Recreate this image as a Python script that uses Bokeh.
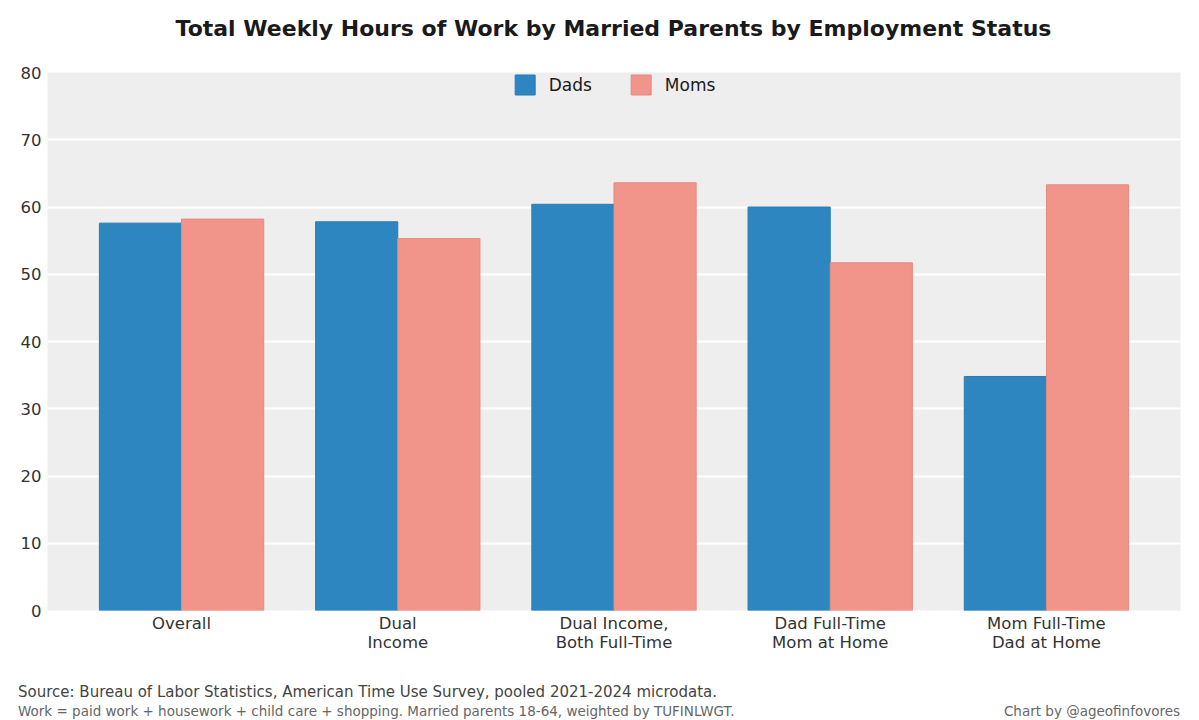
from bokeh.plotting import figure
from bokeh.layouts import column
from bokeh.models import ColumnDataSource, FixedTicker, Legend, LegendItem, Range1d, Div
from bokeh.embed import file_html
from bokeh.resources import INLINE

categories = ["Overall", "Dual\nIncome", "Dual Income,\nBoth Full-Time",
              "Dad Full-Time\nMom at Home", "Mom Full-Time\nDad at Home"]
dads = [57.6, 57.8, 60.4, 60.0, 34.8]
moms = [58.2, 55.3, 63.6, 51.7, 63.3]
y_ticks = [0, 10, 20, 30, 40, 50, 60, 70, 80]

title_text = "Total Weekly Hours of Work by Married Parents by Employment Status"
source_text = "Source: Bureau of Labor Statistics, American Time Use Survey, pooled 2021-2024 microdata."
note_text = "Work = paid work + housework + child care + shopping. Married parents 18-64, weighted by TUFINLWGT."
credit_text = "Chart by @ageofinfovores"

FONT = "DejaVu Sans"
DAD_COLOR = "#2e86c1"
MOM_COLOR = "#f1948a"
BAR_W = 0.38

xs = list(range(len(categories)))
src = ColumnDataSource(dict(
    xd=[x - BAR_W / 2 for x in xs],
    xm=[x + BAR_W / 2 for x in xs],
    dads=dads, moms=moms,
))

p = figure(width=1199, height=625, output_backend="svg", toolbar_location=None,
           x_range=Range1d(-0.62, 4.62), y_range=Range1d(0, 80),
           min_border_left=47, min_border_right=19, min_border_top=22,
           min_border_bottom=65, background_fill_color="#eeeeee",
           border_fill_color="white", outline_line_color=None, margin=0)

rd = p.vbar(x="xd", top="dads", width=BAR_W, source=src, fill_color=DAD_COLOR,
            line_color="#2b7bb3", line_width=1)
rm = p.vbar(x="xm", top="moms", width=BAR_W, source=src, fill_color=MOM_COLOR,
            line_color="#e6897f", line_width=1)

# axes
p.xaxis.ticker = FixedTicker(ticks=xs)
p.xaxis.major_label_overrides = {i: c for i, c in enumerate(categories)}
p.yaxis.ticker = FixedTicker(ticks=y_ticks)
for ax in (p.xaxis[0], p.yaxis[0]):
    ax.axis_line_color = None
    ax.major_tick_line_color = None
    ax.minor_tick_line_color = None
    ax.major_tick_out = 0
    ax.major_tick_in = 0
    ax.minor_tick_out = 0
    ax.major_label_text_font = FONT
    ax.major_label_text_font_size = "16.5px"
    ax.major_label_text_color = "#333333"
    ax.major_label_text_line_height = 1.0
p.xaxis.major_label_standoff = 3
p.yaxis.major_label_standoff = 6

p.xgrid.grid_line_color = None
p.ygrid.grid_line_color = "white"
p.ygrid.grid_line_width = 2

legend = Legend(items=[LegendItem(label="Dads", renderers=[rd]),
                       LegendItem(label="Moms", renderers=[rm])],
                location="top_center", orientation="horizontal",
                border_line_color=None, background_fill_alpha=0,
                label_text_font=FONT, label_text_font_size="17px",
                label_text_color="#1a1a1a", glyph_width=25, glyph_height=25,
                label_standoff=12, spacing=36, margin=0, padding=1)
p.add_layout(legend, "center")

title_div = Div(width=1199, height=50, margin=0, text=(
    '<div style="position:relative;width:1199px;height:50px;">'
    '<div style="position:absolute;left:47px;width:1133px;top:16px;text-align:center;'
    "font-family:'DejaVu Sans';font-weight:bold;font-size:22px;line-height:26px;"
    'color:#1a1a1a;white-space:nowrap;">' + title_text + '</div></div>'))

footer_div = Div(width=1199, height=45, margin=0, text=(
    '<div style="position:relative;width:1199px;height:45px;font-family:\'DejaVu Sans\';">'
    '<div style="position:absolute;left:18px;top:8px;font-size:15px;line-height:18px;'
    'color:#444444;white-space:nowrap;">' + source_text + '</div>'
    '<div style="position:absolute;left:18px;top:28px;font-size:13.5px;line-height:16px;'
    'color:#666666;white-space:nowrap;">' + note_text + '</div>'
    '<div style="position:absolute;right:19px;top:28px;font-size:13.5px;line-height:16px;'
    'color:#666666;white-space:nowrap;">' + credit_text + '</div>'
    '</div>'))

layout = column(title_div, p, footer_div, spacing=0, margin=0)

open("out.html", "w").write(file_html(layout, INLINE))
